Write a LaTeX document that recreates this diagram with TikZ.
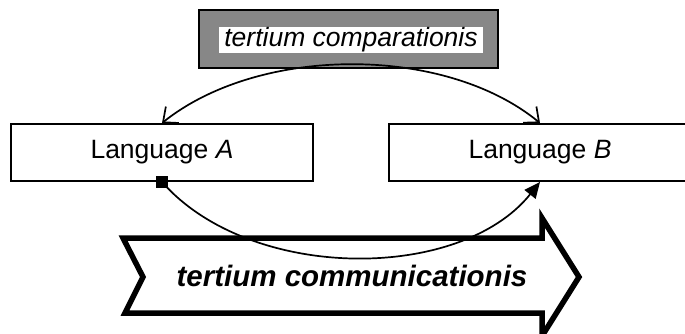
\documentclass[tikz,border=0pt]{standalone}
\usepackage{fontspec}
\setmainfont{Liberation Sans}
\usetikzlibrary{arrows.meta}
\begin{document}
\begin{tikzpicture}[x=1pt,y=-1pt,
  langbox/.style={draw=black,line width=1.9pt,fill=white,minimum width=302pt,minimum height=57pt,inner sep=0pt,font=\fontsize{26.5pt}{30pt}\selectfont},
  frame/.style={draw=black,line width=1.9pt,fill=black!47,minimum width=299pt,minimum height=58pt,inner sep=0pt},
  label/.style={fill=white,minimum width=264pt,minimum height=26pt,inner sep=0pt,font=\fontsize{26.5pt}{30pt}\selectfont\itshape},
  link/.style={line width=1.7pt},
  bigarrow/.style={draw=black,line width=5.5pt,line join=miter,fill=white}]
  \clip (0,0) rectangle (685,333);
  \useasboundingbox (0,0) rectangle (685,333);

  % shared ground on top
  \node[frame] (tc) at (348.5,39) {};
  \node[label] (tcl) at (351,40) {tertium comparationis};

  % the two languages
  \node[langbox] (A) at (162,152.5) {Language \textit{A}};
  \node[langbox] (B) at (540,152.5) {Language \textit{B}};

  % comparison arc from the shared ground to both languages
  \draw[link,{Straight Barb[length=12pt,width=21pt]}-{Straight Barb[length=12pt,width=21pt]}]
    (A.north) .. controls (260,45) and (445,45) .. (B.north);

  % communication arrow
  \draw[bigarrow] (123,238) -- (542,238) -- (542,218) -- (579,277) -- (542,336)
    -- (542,313) -- (125,313) -- (143,277) -- cycle;
  \node[font=\fontsize{29.5pt}{33pt}\selectfont\bfseries\itshape] (tcm) at (352,276) {tertium communicationis};

  % transfer from A to B
  \node[fill=black,minimum size=12pt,inner sep=0pt] (sq) at (A.south) {};
  \draw[link,-{Triangle[length=16pt,width=14pt]}]
    (sq.center) .. controls (250,282) and (460,282) .. (B.south);
\end{tikzpicture}
\end{document}
